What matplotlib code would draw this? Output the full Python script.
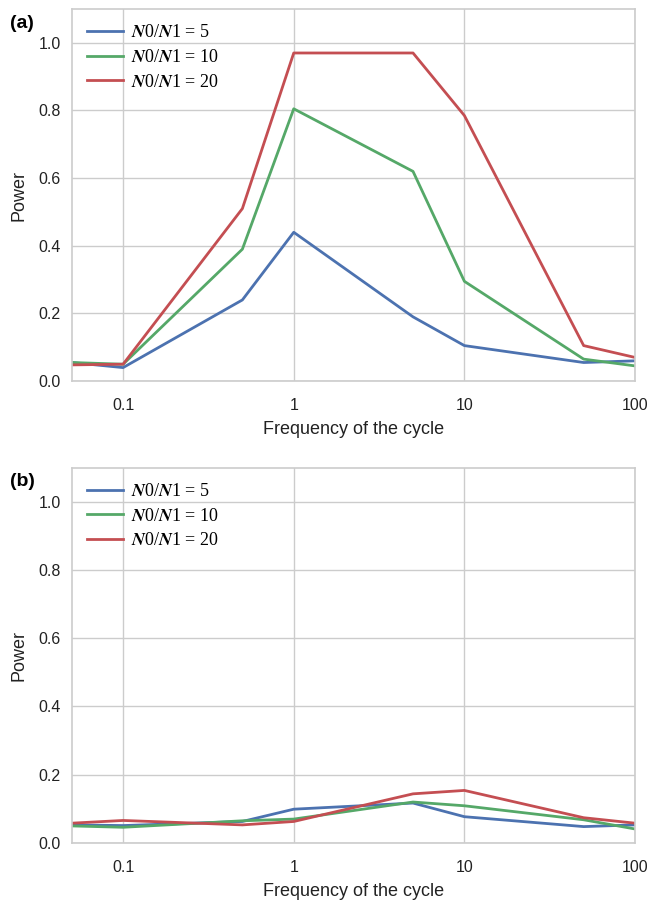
import matplotlib
matplotlib.use("Agg")
import matplotlib.pyplot as plt

freqs = [0.05, 0.1, 0.5, 1, 5, 10, 50, 100]
ratios = [5, 10, 20]

power_a_5 = [0.055, 0.040, 0.240, 0.440, 0.190, 0.105, 0.055, 0.060]
power_a_10 = [0.055, 0.050, 0.390, 0.805, 0.620, 0.295, 0.065, 0.045]
power_a_20 = [0.048, 0.050, 0.510, 0.970, 0.970, 0.785, 0.105, 0.070]

power_b_5 = [0.053, 0.051, 0.063, 0.099, 0.117, 0.077, 0.048, 0.053]
power_b_10 = [0.050, 0.046, 0.065, 0.070, 0.120, 0.109, 0.068, 0.041]
power_b_20 = [0.058, 0.066, 0.053, 0.063, 0.144, 0.154, 0.074, 0.058]

xtick_vals = [0.1, 1, 10, 100]
xtick_labels = ["0.1", "1", "10", "100"]
ytick_vals = [0.0, 0.2, 0.4, 0.6, 0.8, 1.0]

colors = ["#4C72B0", "#55A868", "#C44E52"]

plt.rcParams['font.family'] = ['Liberation Sans', 'DejaVu Sans']
plt.rcParams['mathtext.fontset'] = 'stix'

fig = plt.figure(figsize=(6.52, 9.01), dpi=100)
ax_a = fig.add_axes([0.110, 0.577, 0.864, 0.413])
ax_b = fig.add_axes([0.110, 0.0644, 0.864, 0.4166])

panels = [(ax_a, [power_a_5, power_a_10, power_a_20], "(a)"),
          (ax_b, [power_b_5, power_b_10, power_b_20], "(b)")]

for ax, series, tag in panels:
    for r, vals, c in zip(ratios, series, colors):
        ax.plot(freqs, vals, color=c, lw=2,
                label=r"$\mathbfit{N}$0/$\mathbfit{N}$1 = %d" % r)
    ax.set_xscale("log")
    ax.set_xlim(0.05, 100)
    ax.set_ylim(0, 1.1)
    ax.set_xticks(xtick_vals)
    ax.set_xticklabels(xtick_labels)
    ax.minorticks_off()
    ax.set_yticks(ytick_vals)
    ax.set_yticklabels(["%.1f" % v for v in ytick_vals])
    ax.grid(True, color="#cccccc", lw=1)
    ax.set_axisbelow(True)
    for s in ax.spines.values():
        s.set_color("#cccccc")
        s.set_linewidth(1.2)
    ax.tick_params(axis="x", length=0, labelsize=11.5, pad=12, colors="#222222")
    ax.tick_params(axis="y", length=0, labelsize=11.5, pad=8, colors="#222222")
    ax.set_xlabel("Frequency of the cycle", fontsize=13, color="#222222",
                  labelpad=6)
    ax.set_ylabel("Power", fontsize=13, color="#222222", labelpad=8)
    leg = ax.legend(loc="upper left", frameon=False,
                    handlelength=2.0, handletextpad=0.45,
                    borderaxespad=0.45, labelspacing=0.42,
                    prop={'family': 'Liberation Serif', 'size': 13})
    ax.text(-0.11, 0.985, tag, transform=ax.transAxes, fontsize=14,
            fontweight="bold", va="top", ha="left")

fig.savefig("out.png", dpi=100)
